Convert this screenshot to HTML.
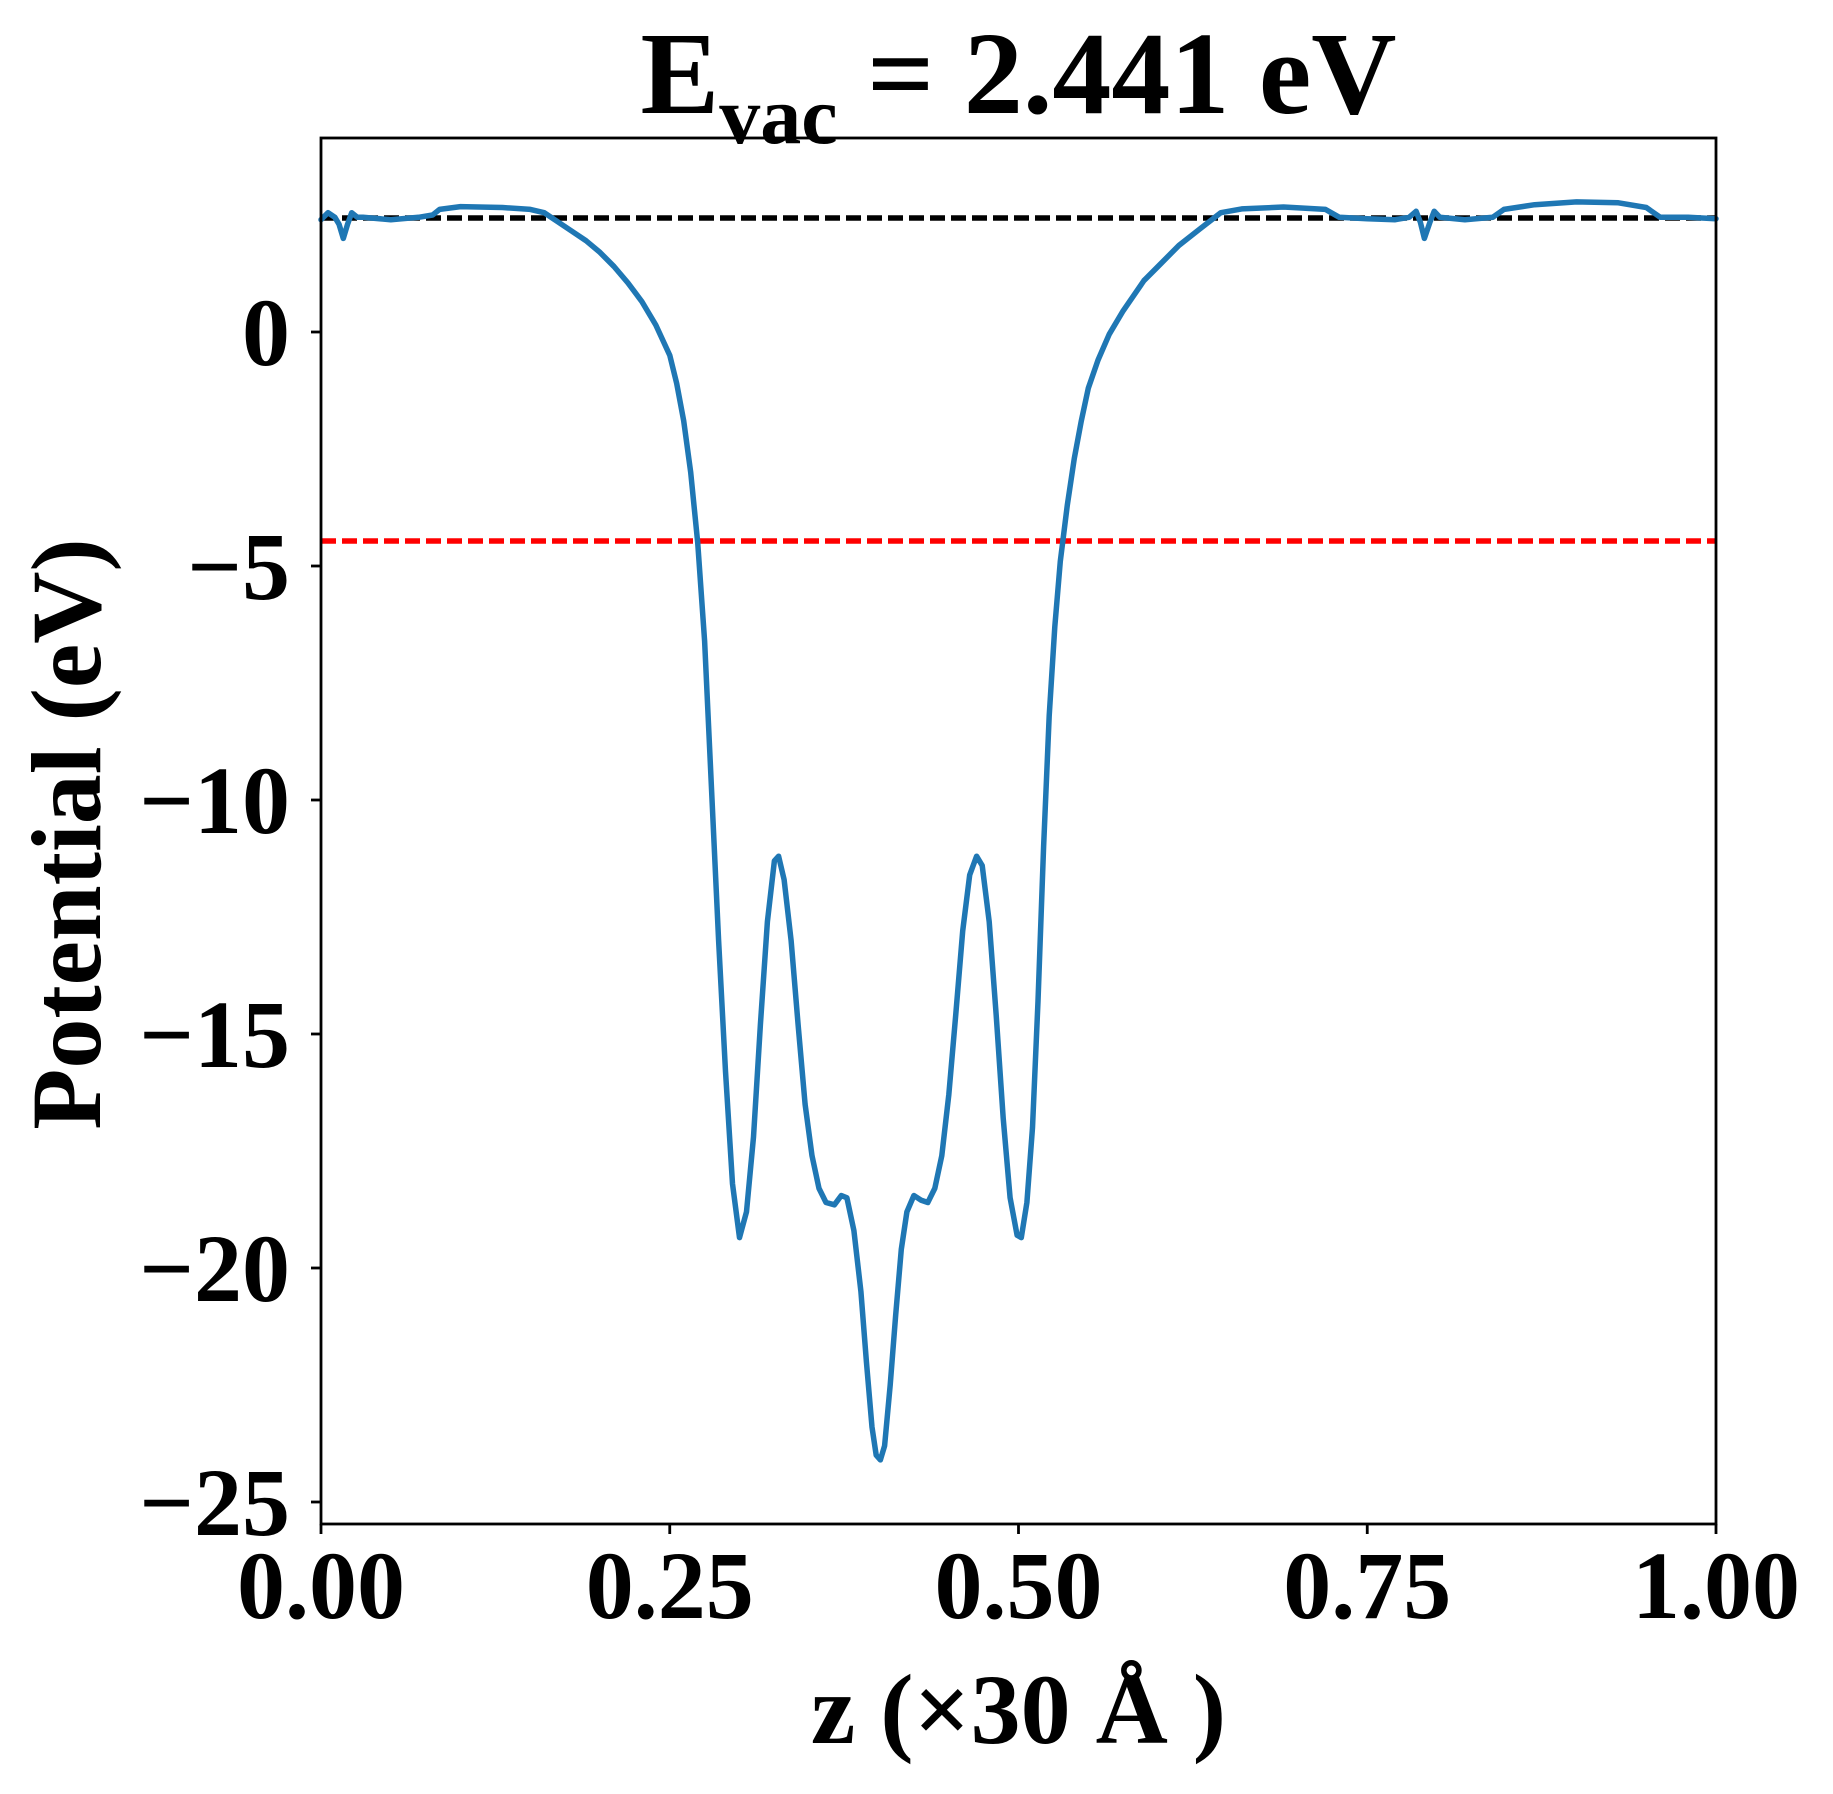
<!DOCTYPE html>
<html><head><meta charset="utf-8"><style>
html,body{margin:0;padding:0;background:#fff}
svg{display:block}
text{font-family:"Liberation Serif",serif;font-weight:bold;fill:#000}
</style></head><body>
<svg width="1833" height="1794" viewBox="0 0 1833 1794" xmlns="http://www.w3.org/2000/svg">
<rect width="1833" height="1794" fill="#fff"/>
<line x1="321" y1="218" x2="1716" y2="218" stroke="#000" stroke-width="5.5" stroke-dasharray="15,6"/>
<line x1="321" y1="541" x2="1716" y2="541" stroke="#ff0000" stroke-width="5.5" stroke-dasharray="15,6"/>
<polyline id="curve" fill="none" stroke="#1f77b4" stroke-width="5.5" stroke-linejoin="round" stroke-linecap="round" points=""/>
<rect x="321" y="138" width="1395" height="1386" fill="none" stroke="#000" stroke-width="2.8"/>
<g stroke="#000" stroke-width="2.8">
<line x1="321" y1="1524" x2="321" y2="1534"/>
<line x1="669.75" y1="1524" x2="669.75" y2="1534"/>
<line x1="1018.5" y1="1524" x2="1018.5" y2="1534"/>
<line x1="1367.25" y1="1524" x2="1367.25" y2="1534"/>
<line x1="1716" y1="1524" x2="1716" y2="1534"/>
<line x1="311" y1="332" x2="321" y2="332"/>
<line x1="311" y1="566" x2="321" y2="566"/>
<line x1="311" y1="800" x2="321" y2="800"/>
<line x1="311" y1="1034" x2="321" y2="1034"/>
<line x1="311" y1="1268" x2="321" y2="1268"/>
<line x1="311" y1="1502" x2="321" y2="1502"/>
</g>
<g font-size="96" text-anchor="middle">
<text x="321" y="1618">0.00</text>
<text x="669.75" y="1618">0.25</text>
<text x="1018.5" y="1618">0.50</text>
<text x="1367.25" y="1618">0.75</text>
<text x="1716" y="1618">1.00</text>
</g>
<g font-size="96" text-anchor="end">
<text x="290" y="365">0</text>
<text x="290" y="599">−5</text>
<text x="290" y="833">−10</text>
<text x="290" y="1067">−15</text>
<text x="290" y="1301">−20</text>
<text x="290" y="1535">−25</text>
</g>
<text x="1018.5" y="1743" font-size="100" text-anchor="middle">z (×30 Å )</text>
<text transform="translate(100,834) rotate(-90)" font-size="100" text-anchor="middle">Potential (eV)</text>
<text x="1018.5" y="113" font-size="118" text-anchor="middle">E<tspan font-size="82" dy="30">vac</tspan><tspan dy="-30"> = 2.441 eV</tspan></text>
</svg>
<script>
var d=[0,2.4,0.005,2.55,0.01,2.45,0.013,2.3,0.016,2.0,0.019,2.3,0.022,2.55,0.026,2.45,0.03,2.45,0.05,2.4,0.07,2.45,0.08,2.5,0.085,2.62,0.1,2.68,0.13,2.66,0.15,2.62,0.16,2.55,
0.17,2.35,0.18,2.15,0.19,1.95,0.2,1.7,0.21,1.4,0.22,1.05,0.23,0.65,0.24,0.15,0.25,-0.5,0.255,-1.1,0.26,-1.9,0.265,-3.0,0.27,-4.5,0.275,-6.6,0.28,-9.8,
0.285,-13,0.29,-15.8,0.295,-18.2,0.3,-19.35,0.305,-18.8,0.31,-17.2,0.315,-14.8,0.32,-12.6,0.325,-11.3,0.328,-11.2,0.332,-11.7,0.337,-13,0.342,-14.8,0.347,-16.5,0.352,-17.6,0.357,-18.3,0.362,-18.6,0.368,-18.65,0.373,-18.45,0.377,-18.5,
0.382,-19.2,0.387,-20.5,0.391,-22,0.395,-23.4,0.398,-24,0.401,-24.1,0.404,-23.8,0.408,-22.5,0.412,-21,0.416,-19.6,0.42,-18.8,0.425,-18.45,0.43,-18.55,0.435,-18.6,0.44,-18.3,0.445,-17.6,0.45,-16.3,0.455,-14.6,0.46,-12.8,0.465,-11.6,0.47,-11.2,0.474,-11.4,
0.479,-12.6,0.484,-14.6,0.489,-16.8,0.494,-18.5,0.499,-19.3,0.502,-19.35,0.506,-18.6,0.51,-17,0.514,-14.3,0.518,-11,0.522,-8.2,0.526,-6.3,0.53,-4.9,0.535,-3.7,0.54,-2.7,0.545,-1.9,0.55,-1.2,0.557,-0.6,0.565,-0.05,0.575,0.45,0.59,1.1,0.6,1.4,0.615,1.85,0.63,2.2,0.645,2.55,0.66,2.63,0.69,2.67,0.72,2.62,0.73,2.45,
0.75,2.42,0.77,2.4,0.78,2.45,0.785,2.58,0.788,2.35,0.791,2.0,0.795,2.35,0.798,2.58,0.802,2.45,0.82,2.4,0.84,2.45,0.848,2.62,0.87,2.72,0.9,2.78,0.93,2.76,0.95,2.66,0.96,2.45,0.98,2.45,1.0,2.42];
var p=[];for(var i=0;i<d.length;i+=2){p.push((321+1395*d[i]).toFixed(1)+","+(332-46.8*d[i+1]).toFixed(1));}
document.getElementById("curve").setAttribute("points",p.join(" "));
</script>
</body></html>
